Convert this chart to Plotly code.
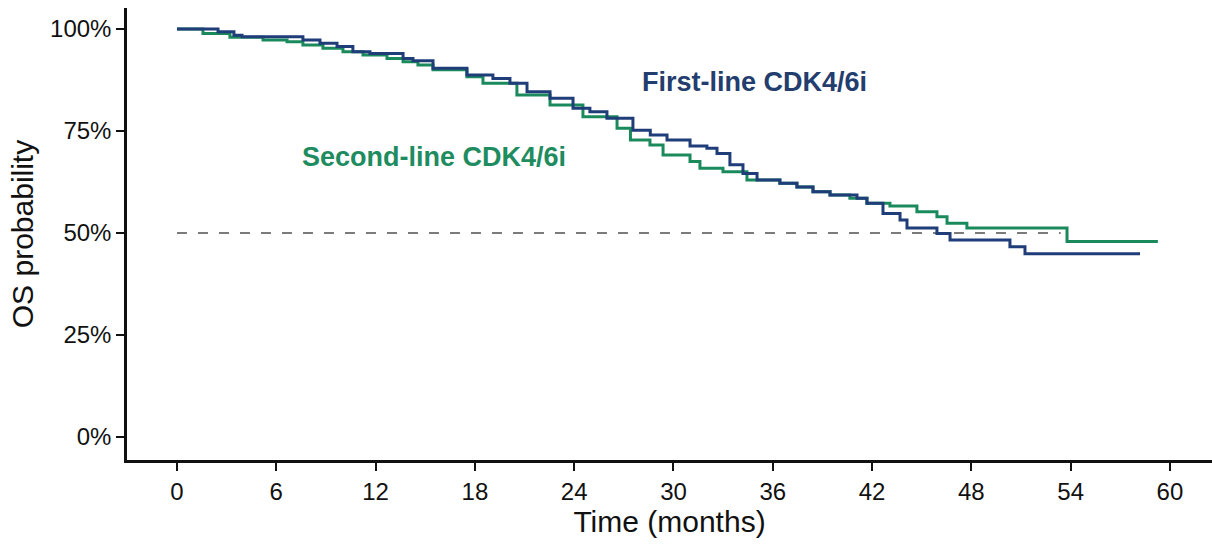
import plotly.graph_objects as go

# Kaplan-Meier step points (months, OS %)
first_line_months = [0, 2.48, 3.44, 3.93, 7.61, 8.64, 9.67, 10.63, 11.66, 13.66, 14.26,
                     15.47, 17.52, 19.09, 20.12, 21.15, 22.54, 23.93, 24.95, 25.98, 27.55,
                     28.6, 29.61, 31.0, 32.02, 32.63, 33.41, 34.2, 35.05, 36.43, 37.46, 38.43,
                     39.46, 41.09, 41.69, 42.66, 43.69, 44.11, 45.92, 46.71, 50.33, 51.24, 58.19]
first_line_os = [100, 99.3, 98.5, 98.1, 97.3, 96.5, 95.7, 94.4, 94.0, 92.8, 92.2,
                 90.4, 88.7, 87.9, 86.7, 84.6, 83.0, 80.6, 79.7, 78.1, 75.2,
                 74.0, 72.8, 71.3, 70.8, 69.5, 66.7, 64.6, 63.0, 62.2, 61.3, 60.1,
                 59.3, 58.5, 57.3, 54.8, 53.2, 51.2, 49.9, 48.3, 46.6, 44.9, 44.9]

second_line_months = [0, 1.57, 3.2, 5.2, 6.65, 7.61, 8.82, 10.03, 11.24, 12.69, 13.66,
                      14.56, 15.47, 17.52, 18.49, 20.54, 22.54, 24.53, 26.59, 27.4, 28.58,
                      29.37, 31.0, 31.6, 32.99, 34.44, 36.43, 37.46, 38.43, 39.46, 40.66,
                      41.69, 43.08, 44.71, 45.92, 46.53, 47.73, 53.78, 59.27]
second_line_os = [100, 98.9, 98.0, 97.3, 96.9, 96.1, 95.3, 94.4, 93.6, 92.8, 92.0,
                  91.2, 90.0, 88.3, 86.7, 83.8, 81.4, 78.5, 75.7, 72.8, 71.6,
                  69.1, 67.5, 65.9, 65.0, 63.0, 62.2, 61.3, 60.1, 59.3, 58.5,
                  57.3, 56.6, 55.2, 54.0, 52.4, 51.2, 47.9, 47.9]

median_ref_months = [0, 53.4]
median_ref_os = [50, 50]

x_ticks = [0, 6, 12, 18, 24, 30, 36, 42, 48, 54, 60]
y_ticks = [0, 25, 50, 75, 100]
y_tick_labels = ["0%", "25%", "50%", "75%", "100%"]

NAVY = "#1f3d78"
GREEN = "#1a8a5c"
FONT = "Liberation Sans, Arial, sans-serif"

fig = go.Figure()

fig.add_trace(go.Scatter(
    x=median_ref_months, y=median_ref_os, mode="lines",
    line=dict(color="#505050", width=1.6, dash="10px,11px"),
    hoverinfo="skip", showlegend=False))

fig.add_trace(go.Scatter(
    x=second_line_months, y=second_line_os, mode="lines", line_shape="hv",
    line=dict(color=GREEN, width=3), name="Second-line CDK4/6i", showlegend=False))

fig.add_trace(go.Scatter(
    x=first_line_months, y=first_line_os, mode="lines", line_shape="hv",
    line=dict(color=NAVY, width=3), name="First-line CDK4/6i", showlegend=False))

fig.add_annotation(x=34.9, y=87.0, text="<b>First-line CDK4/6i</b>", showarrow=False,
                   font=dict(family=FONT, size=27, color="#233d6e"))
fig.add_annotation(x=15.5, y=68.6, text="<b>Second-line CDK4/6i</b>", showarrow=False,
                   font=dict(family=FONT, size=27, color="#1e8c5f"))

fig.update_layout(
    width=1212, height=546,
    margin=dict(l=127, r=0, t=8, b=86),
    paper_bgcolor="white", plot_bgcolor="white",
    font=dict(family=FONT, color="#111111"),
)

fig.update_xaxes(
    range=[-3.02, 62.54], tickvals=x_ticks, ticktext=[str(v) for v in x_ticks],
    showgrid=False, zeroline=False,
    showline=True, linecolor="#111111", linewidth=2.5,
    ticks="outside", ticklen=8, tickwidth=2, tickcolor="#111111",
    tickfont=dict(size=24, family=FONT, color="#111111"),
    title=dict(text="Time (months)", font=dict(size=30, family=FONT, color="#111111"), standoff=4),
)
fig.update_yaxes(
    range=[-5.64, 105.15], tickvals=y_ticks, ticktext=y_tick_labels,
    showgrid=False, zeroline=False,
    showline=True, linecolor="#111111", linewidth=2.5,
    ticks="outside", ticklen=8, tickwidth=2, tickcolor="#111111",
    tickfont=dict(size=24, family=FONT, color="#111111"),
    title=dict(text="OS probability", font=dict(size=30, family=FONT, color="#111111"), standoff=8),
)

fig.write_html("out.html")
